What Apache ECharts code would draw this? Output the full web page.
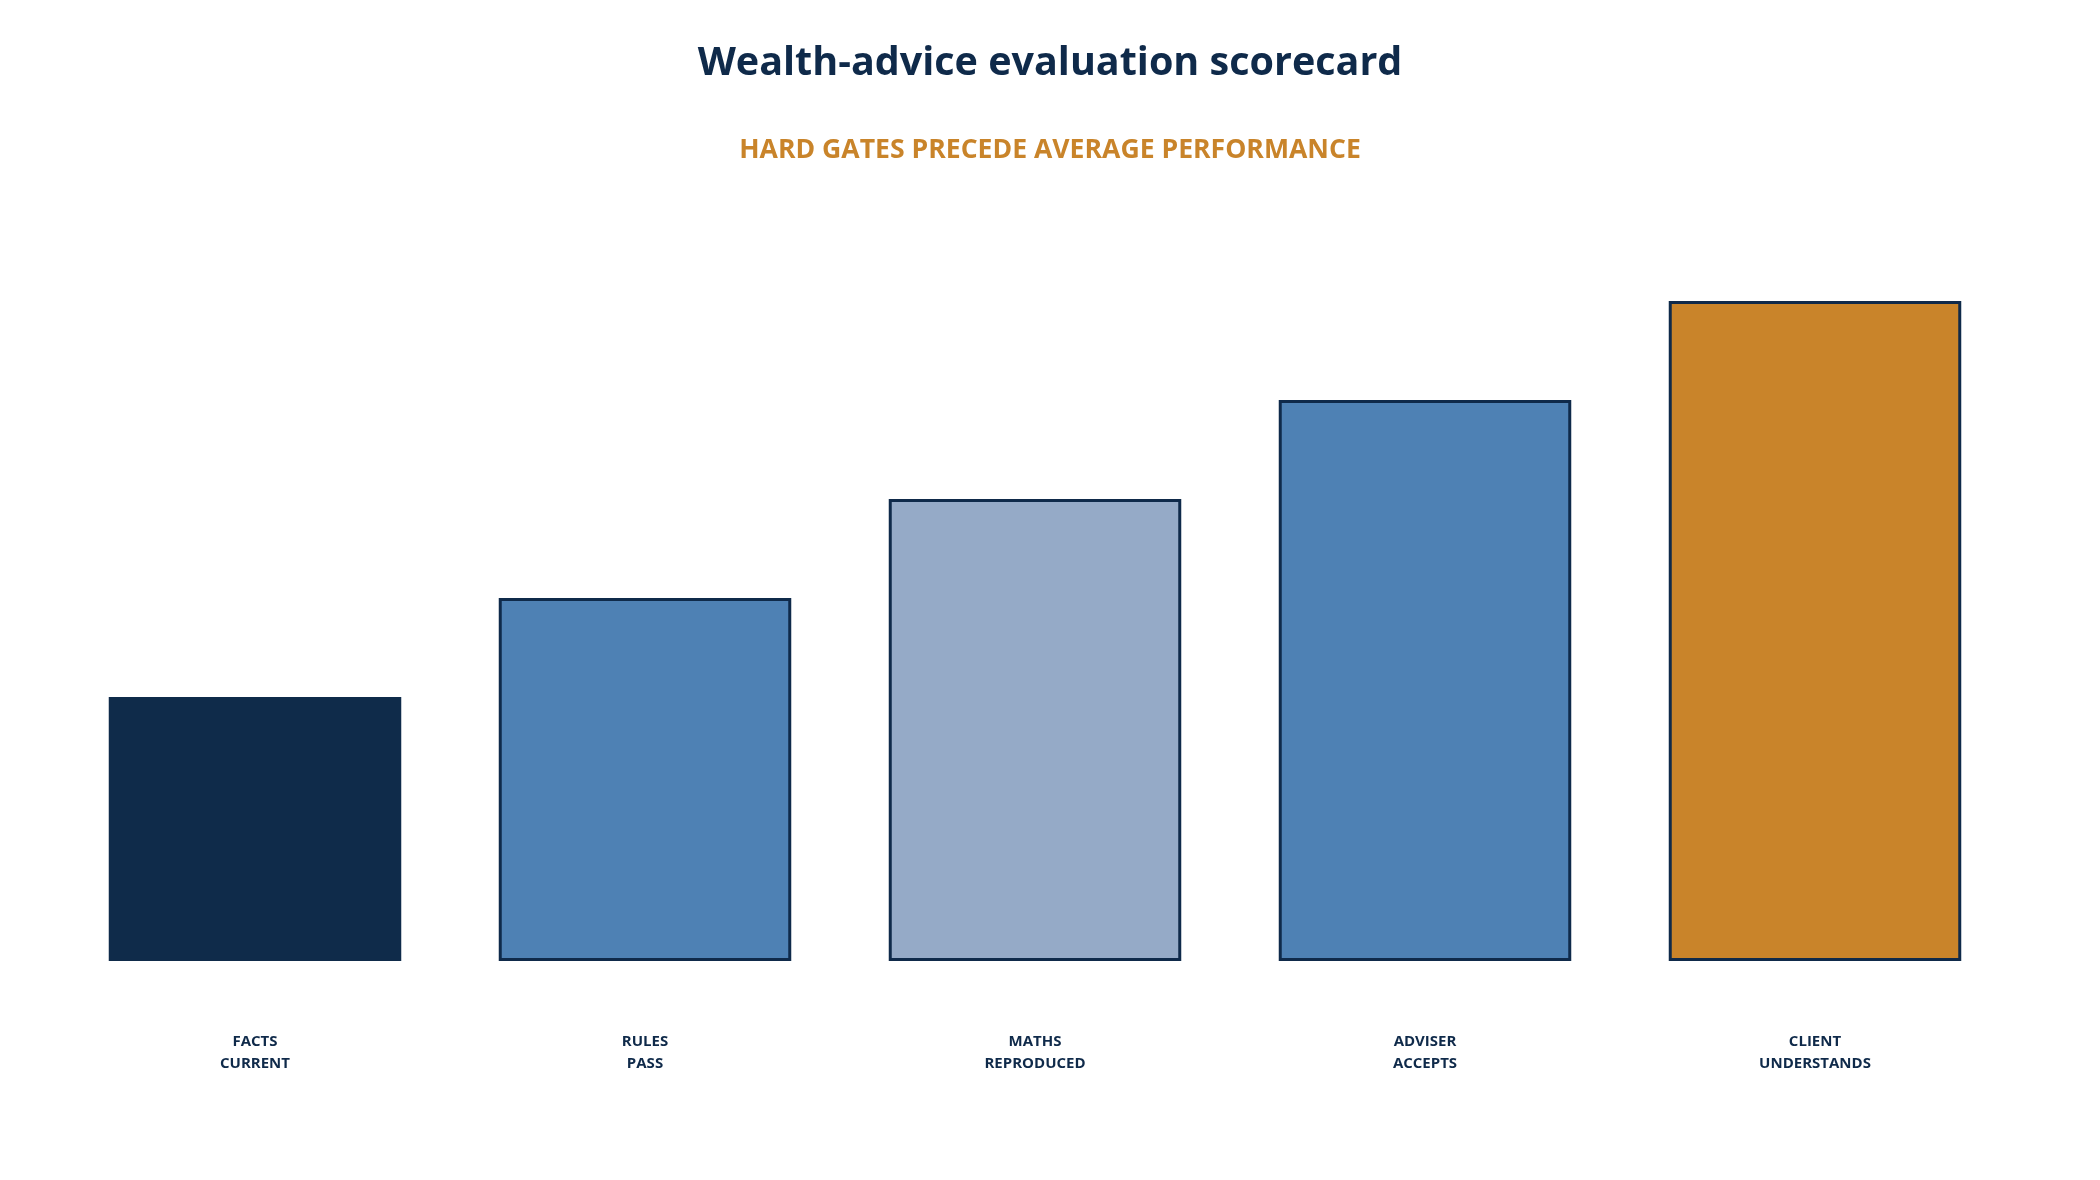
<!DOCTYPE html>
<html>
<head>
<meta charset="utf-8">
<title>Wealth-advice evaluation scorecard</title>
<script src="https://cdn.jsdelivr.net/npm/echarts@6/dist/echarts.min.js"></script>
<style>
	html, body { margin: 0; padding: 0; background: #ffffff; }
	#chart-div { width: 2100px; height: 1180px; }
</style>
</head>
<body>
<div id="chart-div"></div>
<script>
// categories and scores
var g_categories = [
	"FACTS\nCURRENT",
	"RULES\nPASS",
	"MATHS\nREPRODUCED",
	"ADVISER\nACCEPTS",
	"CLIENT\nUNDERSTANDS"
];
var g_scores = [40, 55, 70, 85, 100];
var g_fill_colors = ["#0f2b4a", "#4e81b4", "#95aac7", "#4e81b4", "#c9842a"];

var g_navy = "#0f2a4a";
var g_font = "Open Sans, Noto Sans, sans-serif";

var g_chart = echarts.init(document.getElementById("chart-div"));

var g_option = {
	backgroundColor: "#ffffff",
	animation: false,
	title: [
		{
			text: "Wealth-advice evaluation scorecard",
			left: "center",
			top: 39,
			textStyle: {
				fontFamily: g_font,
				fontSize: 39.5,
				fontWeight: "bold",
				color: g_navy
			}
		},
		{
			text: "HARD GATES PRECEDE AVERAGE PERFORMANCE",
			left: "center",
			top: 132,
			textStyle: {
				fontFamily: g_font,
				fontSize: 26.6,
				fontWeight: "bold",
				color: "#c9842a"
			}
		}
	],
	grid: {
		left: 60,
		right: 90,
		top: 301,
		bottom: 219,
		containLabel: false
	},
	xAxis: {
		type: "category",
		data: g_categories,
		axisLine: { show: false },
		axisTick: { show: false },
		axisLabel: {
			margin: 70,
			fontFamily: g_font,
			fontSize: 15,
			fontWeight: "bold",
			lineHeight: 22,
			color: g_navy
		}
	},
	yAxis: {
		type: "value",
		min: 0,
		max: 100,
		show: false,
		splitLine: { show: false }
	},
	series: [
		{
			type: "bar",
			barWidth: "75%",
			data: g_scores.map(function (v, i) {
				return {
					value: v,
					itemStyle: {
						color: g_fill_colors[i],
						borderColor: g_navy,
						borderWidth: i === 0 ? 0 : 3
					}
				};
			})
		}
	]
};

g_chart.setOption(g_option);
window.addEventListener("resize", g_chart.resize);
</script>
</body>
</html>
